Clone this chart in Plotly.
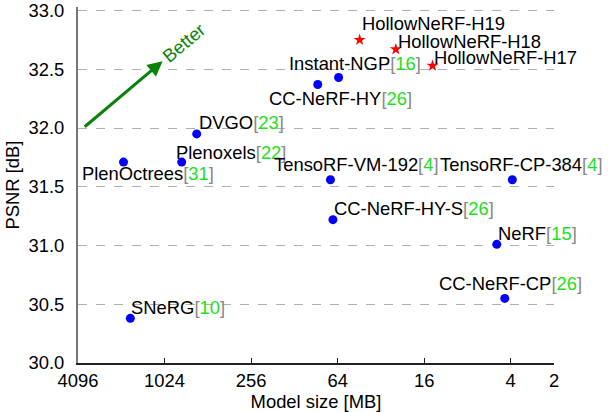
import math
import plotly.graph_objects as go

# ---- data ----
methods = ["PlenOctrees", "Plenoxels", "DVGO", "SNeRG", "CC-NeRF-HY", "Instant-NGP",
           "TensoRF-VM-192", "TensoRF-CP-384", "CC-NeRF-HY-S", "NeRF", "CC-NeRF-CP"]
refs = ["31", "22", "23", "10", "26", "16", "4", "4", "26", "15", "26"]
size_mb = [1976, 778, 612, 1771, 88, 63, 71.8, 3.9, 69, 5.0, 4.4]
psnr = [31.71, 31.71, 31.95, 30.38, 32.37, 32.43, 31.56, 31.56, 31.22, 31.01, 30.55]

ours = ["HollowNeRF-H19", "HollowNeRF-H18", "HollowNeRF-H17"]
ours_size = [45, 25.2, 14.0]
ours_psnr = [32.75, 32.67, 32.53]

xticks = [4096, 1024, 256, 64, 16, 4, 2]
xtick_text = ["4096", "1024", "256", "64", "16", "4", "2"]
yticks = [30.0, 30.5, 31.0, 31.5, 32.0, 32.5, 33.0]
ytick_text = ["30.0", "30.5", "31.0", "31.5", "32.0", "32.5", "33.0"]

# ---- label placement (pixel offsets, anchor) ----
label_layout = {
    "PlenOctrees": (-43, -11, "left"),
    "Plenoxels": (-7, 10, "left"),
    "DVGO": (1, 11, "left"),
    "SNeRG": (0, 11, "left"),
    "CC-NeRF-HY": (95, -14, "right"),
    "Instant-NGP": (-51, 14, "left"),
    "TensoRF-VM-192": (110, 15, "right"),
    "TensoRF-CP-384": (92, 15, "right"),
    "CC-NeRF-HY-S": (0, 11, "left"),
    "NeRF": (0, 11, "left"),
    "CC-NeRF-CP": (78, 15, "right"),
}
ours_layout = [(1, 16), (1, 8), (0, 8)]

FONT = "Liberation Sans, Arial, sans-serif"
FS = 18.4
REF_GREEN = "#1ee01e"
BRACKET = "#8a8a8a"

fig = go.Figure()
fig.add_trace(go.Scatter(x=size_mb, y=psnr, mode="markers",
                         marker=dict(color="#0000ff", size=9, symbol="circle"),
                         showlegend=False, hoverinfo="skip"))
fig.add_trace(go.Scatter(x=ours_size, y=ours_psnr, mode="markers",
                         marker=dict(color="#ff0000", size=9, symbol="star"),
                         showlegend=False, hoverinfo="skip"))

annotations = []
for m, r, s, p in zip(methods, refs, size_mb, psnr):
    dx, dy, anc = label_layout[m]
    txt = (f"{m}<span style='color:{BRACKET}'>[</span>"
           f"<span style='color:{REF_GREEN}'>{r}</span>"
           f"<span style='color:{BRACKET}'>]</span>")
    annotations.append(dict(x=math.log10(s), y=p, xref="x", yref="y", text=txt,
                            showarrow=False, xanchor=anc, yanchor="middle",
                            xshift=dx, yshift=dy, borderpad=0,
                            font=dict(family=FONT, size=FS, color="#000")))
for m, s, p, (dx, dy) in zip(ours, ours_size, ours_psnr, ours_layout):
    annotations.append(dict(x=math.log10(s), y=p, xref="x", yref="y", text=m,
                            showarrow=False, xanchor="left", yanchor="middle",
                            xshift=dx, yshift=dy, borderpad=0,
                            font=dict(family=FONT, size=FS, color="#000")))

# "Better" arrow
annotations.append(dict(x=math.log10(1056), y=32.569, ax=math.log10(3765), ay=32.0,
                        xref="x", yref="y", axref="x", ayref="y", text="",
                        showarrow=True, arrowhead=2, arrowsize=1, arrowwidth=3,
                        arrowcolor="#0a820a"))
annotations.append(dict(x=math.log10(750), y=32.73, xref="x", yref="y", text="Better",
                        showarrow=False, textangle=-40,
                        font=dict(family=FONT, size=FS, color="#0a820a")))

fig.update_layout(
    width=608, height=412,
    margin=dict(l=78, r=54, t=6.5, b=49, autoexpand=False),
    paper_bgcolor="white", plot_bgcolor="white",
    font=dict(family=FONT, size=FS, color="#000"),
    annotations=annotations,
    xaxis=dict(type="log", range=[math.log10(4096), math.log10(2)],
               tickvals=xticks, ticktext=xtick_text, automargin=False,
               showgrid=False, zeroline=False, ticklabeloverflow="allow",
               showline=True, linecolor="#222", linewidth=1.5,
               ticks="inside", ticklen=5, tickcolor="#222",
               title=dict(text="Model size [MB]", standoff=0,
                          font=dict(family=FONT, size=FS))),
    yaxis=dict(range=[30, 33.03], tickvals=yticks, ticktext=ytick_text, automargin=False,
               showgrid=True, gridcolor="#b0b0b0", griddash="dash", gridwidth=1,
               zeroline=False, showline=True, linecolor="#777", linewidth=2,
               ticks="", ticklabelstandoff=8, ticklabeloverflow="allow",
               title=dict(text="PSNR [dB]", standoff=4,
                          font=dict(family=FONT, size=FS))),
)

fig.write_html("out.html", config={"displayModeBar": False},
               post_script="document.body.style.margin='0';document.body.style.overflow='hidden';")
